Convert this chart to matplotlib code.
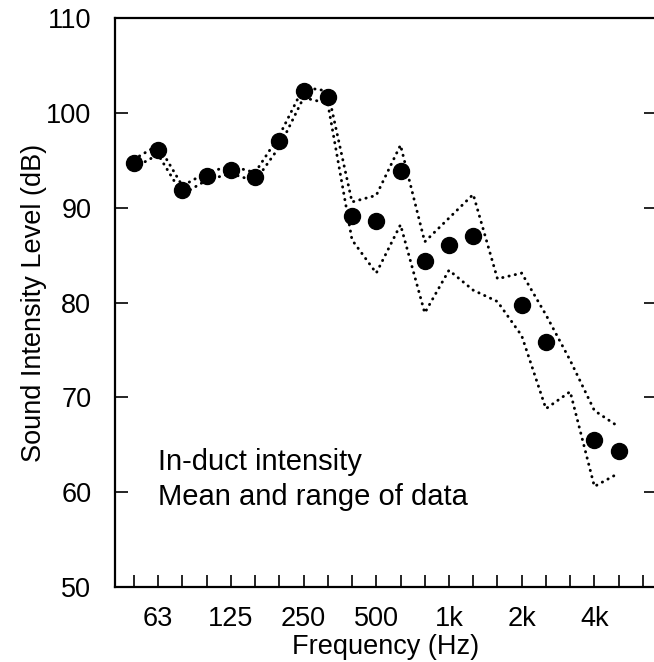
import matplotlib
matplotlib.use("Agg")
import matplotlib.pyplot as plt
import numpy as np

plt.rcParams['font.family'] = ['Liberation Sans', 'DejaVu Sans']

# third-octave bands, 50 Hz .. 6.3 kHz
bands = [50, 63, 80, 100, 125, 160, 200, 250, 315, 400, 500, 630, 800,
         1000, 1250, 1600, 2000, 2500, 3150, 4000, 5000, 6300]
tick_labels = {63: '63', 125: '125', 250: '250', 500: '500',
               1000: '1k', 2000: '2k', 4000: '4k'}

# mean level (dB), None where no point was plotted
mean_db = [94.7, 96.1, 91.9, 93.3, 94.0, 93.2, 97.0, 102.3, 101.7, 89.1,
           88.6, 93.9, 84.4, 86.1, 87.0, None, 79.7, 75.8, None, 65.5, 64.3]
# range of data
upper_db = [95.1, 96.6, 92.3, 93.7, 94.4, 93.7, 97.6, 102.7, 102.3, 90.6,
            91.3, 96.6, 86.4, 88.9, 91.4, 82.5, 83.1, 78.7, 73.9, 68.6, 66.9]
lower_db = [94.2, 95.6, 91.4, 92.9, 93.6, 92.8, 96.4, 101.6, 101.0, 86.6,
            83.1, 88.2, 78.9, 83.4, 81.3, 80.1, 76.5, 68.8, 70.6, 60.6, 62.0]

idx = np.arange(len(upper_db))
pts = [(i, m) for i, m in enumerate(mean_db) if m is not None]

fig = plt.figure(figsize=(6.54, 6.62), dpi=100)
ax = fig.add_axes([0.1758, 0.1133, 0.8287, 0.8595])

dot = dict(color='black', lw=2.1, linestyle=(0, (0.1, 2.1)),
           dash_capstyle='round')
ax.plot(idx, upper_db, **dot)
ax.plot(idx, lower_db, **dot)
ax.plot([p[0] for p in pts], [p[1] for p in pts], 'o', color='black',
        markersize=11.5, linestyle='none')

ax.set_xlim(-0.78, 21.58)
ax.set_ylim(50, 110)
ax.set_xticks(range(len(bands)))
ax.set_xticklabels([tick_labels.get(b, '') for b in bands])
ax.set_yticks(np.arange(50, 111, 10))

ax.tick_params(axis='x', direction='in', length=8.6, width=1.2,
               labelsize=19.5, pad=14)
ax.tick_params(axis='y', direction='in', length=9.4, width=1.2,
               labelsize=19.5, pad=17, right=True)
for s in ax.spines.values():
    s.set_linewidth(1.6)

ax.set_xlabel('Frequency (Hz)', fontsize=19.5, labelpad=1)
ax.set_ylabel('Sound Intensity Level (dB)', fontsize=19.5)
ax.yaxis.set_label_coords(-0.125, 0.5)

ax.text(0.0793, 63.2, 'In-duct intensity', transform=ax.get_yaxis_transform(),
        fontsize=21, va='center', ha='left')
ax.text(0.0793, 59.5, 'Mean and range of data',
        transform=ax.get_yaxis_transform(), fontsize=21, va='center', ha='left')

fig.savefig('out.png', dpi=100)
